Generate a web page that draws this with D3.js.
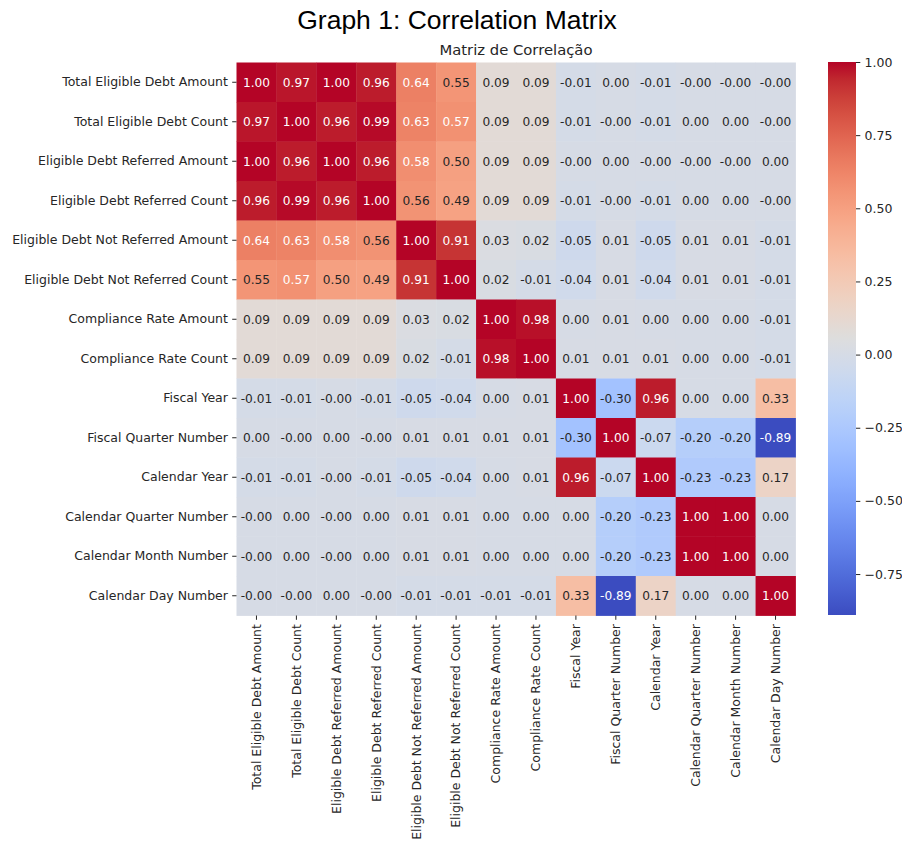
<!DOCTYPE html>
<html>
<head>
<meta charset="utf-8">
<script src="https://cdn.jsdelivr.net/npm/d3@7"></script>
<style>
  html, body { margin: 0; padding: 0; background: #fff; }
  svg { display: block; }
</style>
</head>
<body>
<svg id="chart" width="902" height="841"></svg>
<script>
// ---------- DATA ----------
const variables = [
  "Total Eligible Debt Amount",
  "Total Eligible Debt Count",
  "Eligible Debt Referred Amount",
  "Eligible Debt Referred Count",
  "Eligible Debt Not Referred Amount",
  "Eligible Debt Not Referred Count",
  "Compliance Rate Amount",
  "Compliance Rate Count",
  "Fiscal Year",
  "Fiscal Quarter Number",
  "Calendar Year",
  "Calendar Quarter Number",
  "Calendar Month Number",
  "Calendar Day Number"
];

const rowTotalEligibleDebtAmount     = [1.00, 0.97, 1.00, 0.96, 0.64, 0.55, 0.09, 0.09, -0.01, 0.00, -0.01, -0.00, -0.00, -0.00];
const rowTotalEligibleDebtCount      = [0.97, 1.00, 0.96, 0.99, 0.63, 0.57, 0.09, 0.09, -0.01, -0.00, -0.01, 0.00, 0.00, -0.00];
const rowEligibleDebtReferredAmount  = [1.00, 0.96, 1.00, 0.96, 0.58, 0.50, 0.09, 0.09, -0.00, 0.00, -0.00, -0.00, -0.00, 0.00];
const rowEligibleDebtReferredCount   = [0.96, 0.99, 0.96, 1.00, 0.56, 0.49, 0.09, 0.09, -0.01, -0.00, -0.01, 0.00, 0.00, -0.00];
const rowNotReferredAmount           = [0.64, 0.63, 0.58, 0.56, 1.00, 0.91, 0.03, 0.02, -0.05, 0.01, -0.05, 0.01, 0.01, -0.01];
const rowNotReferredCount            = [0.55, 0.57, 0.50, 0.49, 0.91, 1.00, 0.02, -0.01, -0.04, 0.01, -0.04, 0.01, 0.01, -0.01];
const rowComplianceRateAmount        = [0.09, 0.09, 0.09, 0.09, 0.03, 0.02, 1.00, 0.98, 0.00, 0.01, 0.00, 0.00, 0.00, -0.01];
const rowComplianceRateCount         = [0.09, 0.09, 0.09, 0.09, 0.02, -0.01, 0.98, 1.00, 0.01, 0.01, 0.01, 0.00, 0.00, -0.01];
const rowFiscalYear                  = [-0.01, -0.01, -0.00, -0.01, -0.05, -0.04, 0.00, 0.01, 1.00, -0.30, 0.96, 0.00, 0.00, 0.33];
const rowFiscalQuarterNumber         = [0.00, -0.00, 0.00, -0.00, 0.01, 0.01, 0.01, 0.01, -0.30, 1.00, -0.07, -0.20, -0.20, -0.89];
const rowCalendarYear                = [-0.01, -0.01, -0.00, -0.01, -0.05, -0.04, 0.00, 0.01, 0.96, -0.07, 1.00, -0.23, -0.23, 0.17];
const rowCalendarQuarterNumber       = [-0.00, 0.00, -0.00, 0.00, 0.01, 0.01, 0.00, 0.00, 0.00, -0.20, -0.23, 1.00, 1.00, 0.00];
const rowCalendarMonthNumber         = [-0.00, 0.00, -0.00, 0.00, 0.01, 0.01, 0.00, 0.00, 0.00, -0.20, -0.23, 1.00, 1.00, 0.00];
const rowCalendarDayNumber           = [-0.00, -0.00, 0.00, -0.00, -0.01, -0.01, -0.01, -0.01, 0.33, -0.89, 0.17, 0.00, 0.00, 1.00];

const matrixRows = [
  rowTotalEligibleDebtAmount, rowTotalEligibleDebtCount,
  rowEligibleDebtReferredAmount, rowEligibleDebtReferredCount,
  rowNotReferredAmount, rowNotReferredCount,
  rowComplianceRateAmount, rowComplianceRateCount,
  rowFiscalYear, rowFiscalQuarterNumber, rowCalendarYear,
  rowCalendarQuarterNumber, rowCalendarMonthNumber, rowCalendarDayNumber
];

const colorbarTicks = [1.00, 0.75, 0.50, 0.25, 0.00, -0.25, -0.50, -0.75];

// coolwarm (Moreland) control colours
const coolwarmStops = [
  [59,76,192],[68,90,204],[77,104,215],[87,117,225],[98,130,234],[108,142,241],
  [119,154,247],[130,165,251],[141,176,254],[152,185,255],[163,194,255],[174,201,253],
  [184,208,249],[194,213,244],[204,217,238],[213,219,230],[221,221,221],[229,216,209],
  [236,211,197],[241,204,185],[245,196,173],[247,187,160],[247,177,148],[247,166,135],
  [244,154,123],[241,141,111],[236,127,99],[229,112,88],[222,96,77],[213,80,66],
  [203,62,56],[192,40,47],[180,4,38]
];

const titleText = "Graph 1: Correlation Matrix";
const subtitleText = "Matriz de Correlação";

// ---------- CHART ----------
(function draw() {
const svg = d3.select("#chart");
const FONT = "'DejaVu Sans', sans-serif";
const FS = 12.5;     // tick labels
const FA = 12.2;     // annotations

const pL = 236.5, pR = 795.5, pT = 62.5, pB = 615.5;
const n = variables.length;

const x = d3.scaleBand().domain(d3.range(n)).range([pL, pR]).padding(0);
const y = d3.scaleBand().domain(d3.range(n)).range([pT, pB]).padding(0);

const allVals = matrixRows.flat();
const vmin = d3.min(allVals), vmax = d3.max(allVals);

const stopT = coolwarmStops.map((_, i) => i / (coolwarmStops.length - 1));
const cmap = d3.scaleLinear().domain(stopT)
  .range(coolwarmStops.map(c => d3.rgb(c[0], c[1], c[2])))
  .interpolate(d3.interpolateRgb).clamp(true);
const norm = d3.scaleLinear().domain([vmin, vmax]).range([0, 1]).clamp(true);
const color = v => cmap(norm(v));

function relLum(c) {
  const rgb = d3.rgb(c);
  const lin = u => { u /= 255; return u <= 0.03928 ? u / 12.92 : Math.pow((u + 0.055) / 1.055, 2.4); };
  return 0.2126 * lin(rgb.r) + 0.7152 * lin(rgb.g) + 0.0722 * lin(rgb.b);
}
function fmt(v) {
  const neg = v < 0 || Object.is(v, -0);
  return (neg ? "-" : "") + Math.abs(v).toFixed(2);
}

const cells = [];
matrixRows.forEach((row, i) => row.forEach((v, j) => cells.push({ i, j, v })));

// cells
svg.append("g").selectAll("rect").data(cells).join("rect")
  .attr("x", d => x(d.j))
  .attr("y", d => y(d.i))
  .attr("width", x.bandwidth() + 0.4)
  .attr("height", y.bandwidth() + 0.4)
  .attr("fill", d => color(d.v));

// annotations
svg.append("g").selectAll("text").data(cells).join("text")
  .attr("x", d => x(d.j) + x.bandwidth() / 2)
  .attr("y", d => y(d.i) + y.bandwidth() / 2)
  .attr("text-anchor", "middle")
  .attr("dy", "0.36em")
  .attr("font-family", FONT)
  .attr("font-size", FA)
  .attr("fill", d => relLum(color(d.v)) > 0.408 ? "#262626" : "#ffffff")
  .text(d => fmt(d.v));

// y axis
const yAxis = d3.axisLeft(y).tickSize(4.3).tickPadding(4.3).tickFormat(i => variables[i]);
const gy = svg.append("g").attr("transform", `translate(${pL},0)`).call(yAxis);
gy.select(".domain").remove();
gy.selectAll(".tick line").attr("stroke", "#262626").attr("stroke-width", 1);
gy.selectAll(".tick text").attr("font-family", FONT).attr("font-size", FS).attr("fill", "#262626");

// x axis
const xAxis = d3.axisBottom(x).tickSize(4.3).tickPadding(4.3).tickFormat(i => variables[i]);
const gx = svg.append("g").attr("transform", `translate(0,${pB})`).call(xAxis);
gx.select(".domain").remove();
gx.selectAll(".tick line").attr("stroke", "#262626").attr("stroke-width", 1);
gx.selectAll(".tick text")
  .attr("font-family", FONT).attr("font-size", FS).attr("fill", "#262626")
  .attr("transform", "rotate(-90)")
  .attr("text-anchor", "end")
  .attr("x", -8.6).attr("y", 0).attr("dy", "0.35em");

// colorbar
const cbX = 828, cbW = 28;
const cbScale = d3.scaleLinear().domain([vmin, vmax]).range([pB - 0.5, pT - 0.5]);
const defs = svg.append("defs");
const grad = defs.append("linearGradient").attr("id", "cbgrad")
  .attr("x1", 0).attr("y1", 1).attr("x2", 0).attr("y2", 0);
grad.selectAll("stop").data(d3.range(0, 1.0001, 1 / 64)).join("stop")
  .attr("offset", t => t)
  .attr("stop-color", t => cmap(t));
svg.append("rect")
  .attr("x", cbX).attr("y", cbScale(vmax))
  .attr("width", cbW).attr("height", cbScale(vmin) - cbScale(vmax))
  .attr("fill", "url(#cbgrad)");

const cbAxis = d3.axisRight(cbScale).tickValues(colorbarTicks).tickSize(4.3).tickPadding(4.3)
  .tickFormat(v => (v < 0 ? "\u2212" : "") + Math.abs(v).toFixed(2));
const gcb = svg.append("g").attr("transform", `translate(${cbX + cbW},0)`).call(cbAxis);
gcb.select(".domain").remove();
gcb.selectAll(".tick line").attr("stroke", "#262626");
gcb.selectAll(".tick text").attr("font-family", FONT).attr("font-size", FS).attr("fill", "#262626");

// titles
svg.append("text")
  .attr("x", (pL + pR) / 2).attr("y", 55)
  .attr("text-anchor", "middle")
  .attr("font-family", FONT).attr("font-size", 14.8).attr("fill", "#262626")
  .text(subtitleText);

svg.append("text")
  .attr("x", 457).attr("y", 29)
  .attr("text-anchor", "middle")
  .attr("font-family", "'Liberation Sans', Arial, sans-serif").attr("font-size", 26.5).attr("fill", "#000")
  .text(titleText);
})();
</script>
</body>
</html>
